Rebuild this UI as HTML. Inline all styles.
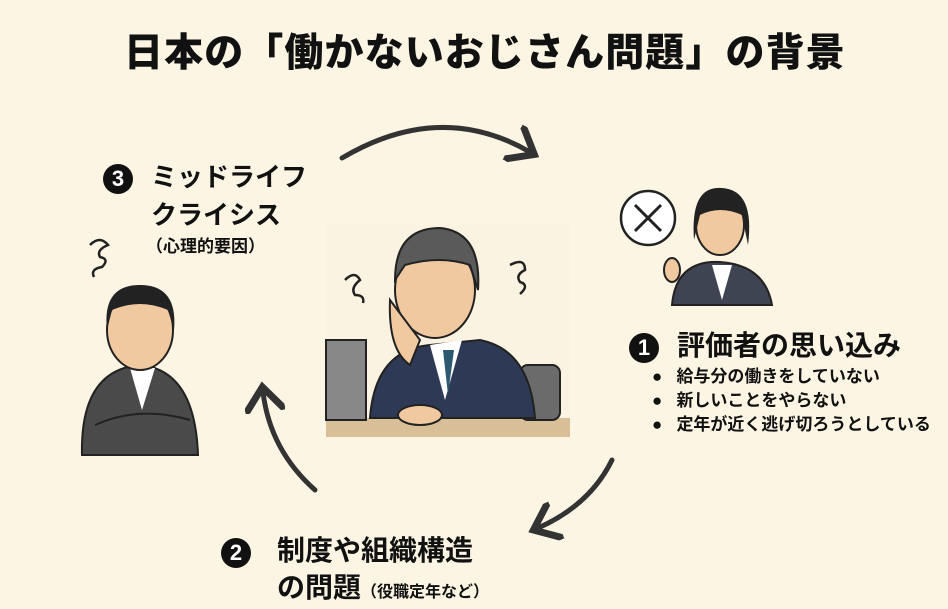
<!DOCTYPE html>
<html><head><meta charset="utf-8"><style>
body{margin:0;width:948px;height:609px;background:#fdf5e3;overflow:hidden;position:relative;font-family:"Liberation Sans","Noto Sans CJK JP",sans-serif;font-weight:bold;color:#111}
.t{position:absolute;white-space:nowrap}
.n{display:inline-block;width:30px;height:30px;border-radius:50%;background:#111;color:#fff;text-align:center;line-height:30px;font-size:22px;vertical-align:middle;margin-right:18px}
</style></head><body>
<div class="t" style="left:124px;top:22px;font-size:39px;font-weight:900;letter-spacing:1.1px;">日本の「働かないおじさん問題」の背景</div>

<svg width="948" height="609" style="position:absolute;left:0;top:0">
<defs><marker id="a" markerWidth="8" markerHeight="8" refX="4" refY="4" orient="auto" markerUnits="strokeWidth"><path d="M0,0 L5,4 L0,8" fill="none" stroke="#333" stroke-width="1.4"/></marker></defs>
<g fill="none" stroke="#333" stroke-width="5" stroke-linecap="round">
<path d="M342,158 Q440,100 530,152" marker-end="url(#a)"/>
<path d="M612,460 Q590,505 538,528" marker-end="url(#a)"/>
<path d="M315,490 Q270,450 263,392" marker-end="url(#a)"/>
</g>
<rect x="326" y="225" width="244" height="212" fill="#fbf3e2"/>
<rect x="326" y="418" width="244" height="19" fill="#d9bf97"/>
<rect x="520" y="365" width="40" height="55" rx="8" fill="#6b6b6b" stroke="#222" stroke-width="2"/>
<path d="M370,418 Q375,350 430,345 L480,340 Q530,350 535,418 Z" fill="#2e3a55" stroke="#222" stroke-width="2"/>
<path d="M430,345 L445,400 L462,340 Z" fill="#fff"/><path d="M443,350 L448,395 L454,350 Z" fill="#2d5a70"/>
<ellipse cx="435" cy="290" rx="40" ry="48" fill="#f1c9a0" stroke="#222" stroke-width="2"/>
<path d="M395,280 Q395,228 440,228 Q482,232 478,290 L470,265 Q440,255 405,265 Z" fill="#5a5a5a" stroke="#222" stroke-width="2"/>
<path d="M390,300 Q388,350 410,365 L420,340 Z" fill="#f1c9a0" stroke="#222" stroke-width="2"/>
<rect x="326" y="340" width="40" height="80" fill="#888" stroke="#222" stroke-width="2"/>
<ellipse cx="420" cy="415" rx="22" ry="10" fill="#f1c9a0" stroke="#222" stroke-width="2"/>
<g fill="none" stroke="#222" stroke-width="2.5"><path d="M345,280 q10,-10 15,0 q-10,8 -5,15 q10,0 8,8"/><path d="M510,265 q15,-8 15,5 q-10,5 -5,12 q10,3 0,12"/></g>
<circle cx="648" cy="218" r="27" fill="#fff" stroke="#222" stroke-width="2.5"/>
<path d="M635,205 L661,231 M661,205 L635,231" stroke="#222" stroke-width="3"/>
<path d="M672,305 Q676,260 720,262 Q765,265 772,305 Z" fill="#3e4452" stroke="#222" stroke-width="2"/>
<path d="M712,265 L722,300 L732,265 Z" fill="#fff"/>
<ellipse cx="720" cy="225" rx="24" ry="30" fill="#f1c9a0" stroke="#222" stroke-width="2"/>
<path d="M694,240 Q690,185 722,188 Q755,190 748,245 L742,215 Q720,205 700,215 Z" fill="#222"/>
<ellipse cx="672" cy="270" rx="8" ry="12" fill="#f1c9a0" stroke="#222" stroke-width="2"/>
<path d="M82,455 Q80,370 140,365 Q195,370 198,455 Z" fill="#4a4a4a" stroke="#222" stroke-width="2"/>
<path d="M130,368 L142,410 L155,368 Z" fill="#fff"/>
<ellipse cx="140" cy="330" rx="33" ry="40" fill="#f1c9a0" stroke="#222" stroke-width="2"/>
<path d="M107,330 Q102,285 140,285 Q178,285 174,330 L168,310 Q140,298 112,310 Z" fill="#222"/>
<path d="M95,425 Q140,405 190,420" fill="none" stroke="#222" stroke-width="2"/>
<g fill="none" stroke="#222" stroke-width="2.5"><path d="M90,245 q10,-10 18,0 q-12,5 -8,12 q10,2 2,10 q-12,2 -8,10"/></g>
</svg>

<div class="t" style="left:103px;top:157px;font-size:26px"><span class="n">3</span>ミッドライフ</div>
<div class="t" style="left:151px;top:195px;font-size:26px">クライシス</div>
<div class="t" style="left:146px;top:232px;font-size:17px">（心理的要因）</div>

<div class="t" style="left:629px;top:324px;font-size:28px"><span class="n">1</span>評価者の思い込み</div>
<div class="t" style="left:652px;top:365px;font-size:17px;line-height:24px">
●&nbsp;&nbsp;&nbsp;給与分の働きをしていない<br>●&nbsp;&nbsp;&nbsp;新しいことをやらない<br>●&nbsp;&nbsp;&nbsp;定年が近く逃げ切ろうとしている</div>

<div class="t" style="left:221px;top:529px;font-size:28px"><span class="n">2</span><span style="margin-left:8px">制度や組織構造</span></div>
<div class="t" style="left:277px;top:566px;font-size:28px">の問題<span style="font-size:16px">（役職定年など）</span></div>
</body></html>
